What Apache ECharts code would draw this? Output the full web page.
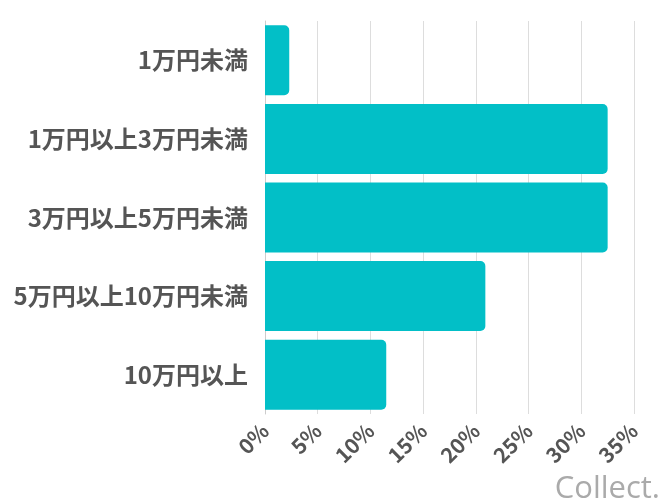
<!DOCTYPE html>
<html>
<head>
<meta charset="utf-8">
<script src="https://cdn.jsdelivr.net/npm/echarts@6/dist/echarts.min.js"></script>
<style>
html,body{margin:0;padding:0;background:#fff;}
#chart{width:662px;height:500px;}
</style>
</head>
<body>
<div id="chart"></div>
<script>
const categories = ['1万円未満', '1万円以上3万円未満', '3万円以上5万円未満', '5万円以上10万円未満', '10万円以上'];
const values = [2.3, 32.5, 32.5, 20.9, 11.5];
const xTicks = { min: 0, max: 35, interval: 5 };

const chart = echarts.init(document.getElementById('chart'));
chart.setOption({
  animation: false,
  grid: { left: 265, right: 28, top: 21, bottom: 86, containLabel: false },
  xAxis: {
    type: 'value',
    min: xTicks.min, max: xTicks.max, interval: xTicks.interval,
    axisLine: { show: false },
    axisTick: { show: false },
    splitLine: { show: true, lineStyle: { color: '#dddddd', width: 1 } },
    axisLabel: {
      formatter: '{value}%',
      rotate: 45,
      color: '#555555',
      fontWeight: 'bold',
      fontSize: 21,
      fontFamily: '"Noto Sans CJK JP", "Noto Sans", sans-serif',
      margin: 13
    }
  },
  yAxis: {
    type: 'category',
    data: categories,
    inverse: true,
    axisLine: { show: true, lineStyle: { color: '#cccccc', width: 1 } },
    axisTick: { show: false },
    axisLabel: {
      color: '#555555',
      fontWeight: 'bold',
      fontSize: 24,
      fontFamily: '"Noto Sans CJK JP", sans-serif',
      margin: 17
    }
  },
  series: [{
    type: 'bar',
    data: values,
    barCategoryGap: '11%',
    itemStyle: { color: '#02BFC7', borderRadius: [0, 5, 5, 0] }
  }],
  graphic: [{
    type: 'text',
    right: 2,
    bottom: -5,
    style: {
      text: 'Collect.',
      fill: '#aaaaaa',
      fontSize: 31,
      fontFamily: '"Open Sans", "Noto Sans", sans-serif'
    }
  }]
});
</script>
</body>
</html>
